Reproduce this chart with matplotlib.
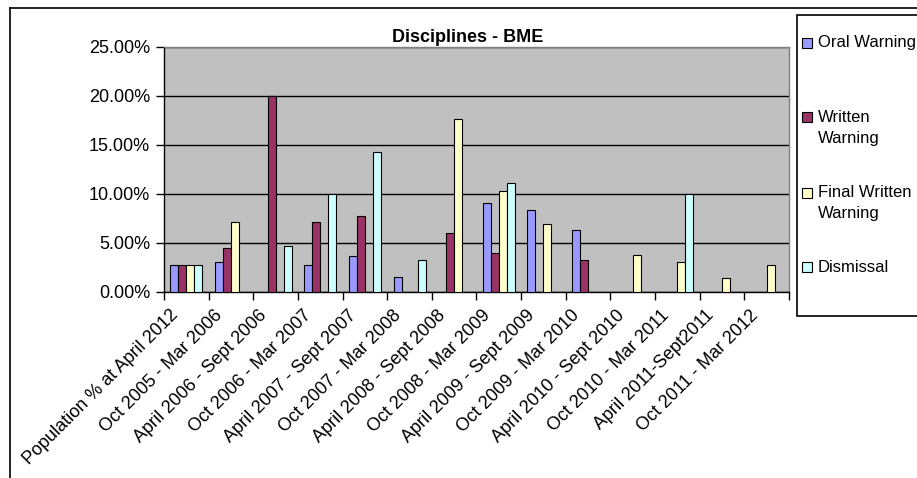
import numpy as np
import matplotlib
matplotlib.use('Agg')
import matplotlib.pyplot as plt
from matplotlib.patches import Rectangle
from matplotlib.lines import Line2D
from matplotlib.ticker import FuncFormatter, MultipleLocator

plt.rcParams['font.family'] = ['Liberation Sans', 'DejaVu Sans']

periods = ['Population % at April 2012', 'Oct 2005 - Mar 2006', 'April 2006 - Sept 2006',
           'Oct 2006 - Mar 2007', 'April 2007 - Sept 2007', 'Oct 2007 - Mar 2008',
           'April 2008 - Sept 2008', 'Oct 2008 - Mar 2009', 'April 2009 - Sept 2009',
           'Oct 2009 - Mar 2010', 'April 2010 - Sept 2010', 'Oct 2010 - Mar 2011',
           'April 2011-Sept2011', 'Oct 2011 - Mar 2012']

# percentages per period, 0 = no cases
oral_warning = [2.7, 3.1, 0, 2.8, 3.7, 1.5, 0, 9.1, 8.3, 6.3, 0, 0, 0, 0]
written_warning = [2.7, 4.5, 20.0, 7.1, 7.7, 0, 6.0, 4.0, 0, 3.3, 0, 0, 0, 0]
final_written = [2.7, 7.1, 0, 0, 0, 0, 17.6, 10.3, 6.9, 0, 3.8, 3.1, 1.4, 2.8]
dismissal = [2.7, 0, 4.7, 10.0, 14.3, 3.3, 0, 11.1, 0, 0, 0, 10.0, 0, 0]

series = [('Oral Warning', oral_warning, '#9999FF'),
          ('Written\nWarning', written_warning, '#993366'),
          ('Final Written\nWarning', final_written, '#FFFFCC'),
          ('Dismissal', dismissal, '#CCFFFF')]

W, H = 917, 478
fig = plt.figure(figsize=(W / 100, H / 100), dpi=100)

def px(x0, y0, x1, y1):
    # pixel box (top-left origin) -> figure fraction rect
    return [x0 / W, 1 - y1 / H, (x1 - x0) / W, (y1 - y0) / H]

ax = fig.add_axes(px(164, 46.5, 789, 292))
ax.set_facecolor('#C0C0C0')

n = len(periods)
x = np.arange(n)
bw = 0.179
for i, (name, vals, col) in enumerate(series):
    offs = (i - 1.5) * bw
    for xi, v in zip(x, vals):
        if v > 0:
            ax.bar(xi + offs, v, width=bw, color=col, edgecolor='black',
                   linewidth=0.8, zorder=3)

ax.set_xlim(-0.5, n - 0.5)
ax.set_ylim(0, 25)
ax.yaxis.set_major_locator(MultipleLocator(5))
ax.yaxis.set_major_formatter(FuncFormatter(lambda v, p: f'{v:.2f}%'))
ax.grid(axis='y', color='black', linewidth=1, zorder=1)
ax.set_axisbelow(True)

# category labels sit a little left of each group centre
ax.set_xticks(x - 0.25)
ax.set_xticklabels(periods, rotation=45, ha='right', va='center',
                   rotation_mode='anchor', fontsize=13)
ax.set_xticks(np.arange(n + 1) - 0.5, minor=True)
ax.tick_params(axis='x', which='major', length=0, pad=15)
ax.tick_params(axis='x', which='minor', length=6, width=1, direction='out')
ax.tick_params(axis='y', length=6, width=1, direction='out', labelsize=13, pad=4)

for s in ['left', 'bottom']:
    ax.spines[s].set_color('black')
    ax.spines[s].set_linewidth(1)
for s in ['top', 'right']:
    ax.spines[s].set_color('#808080')
    ax.spines[s].set_linewidth(1)

fig.text(468 / W, 1 - 37 / H, 'Disciplines - BME', ha='center', va='center',
         fontsize=13, fontweight='bold')

# outer chart frame
fig.add_artist(Line2D([10 / W, 10 / W], [0, 1 - 8 / H], color='black', lw=1.2,
                      transform=fig.transFigure))
fig.add_artist(Line2D([10 / W, 1], [1 - 8 / H, 1 - 8 / H], color='black', lw=1.2,
                      transform=fig.transFigure))

# legend box
fig.add_artist(Rectangle((797 / W, 1 - 316 / H), 200 / W, (316 - 15) / H,
                         transform=fig.transFigure, facecolor='white',
                         edgecolor='black', lw=1.2))
legend_y = [43, 128, 203, 267]
for (name, vals, col), ly in zip(series, legend_y):
    lines = name.split('\n')
    top_y = ly - (len(lines) - 1) * 10.5
    fig.add_artist(Rectangle((802 / W, 1 - (top_y + 5) / H), 10 / W, 10 / H,
                             transform=fig.transFigure, facecolor=col,
                             edgecolor='black', lw=0.8))
    fig.text(818 / W, 1 - top_y / H, lines[0], ha='left', va='center', fontsize=12)
    if len(lines) > 1:
        fig.text(818 / W, 1 - (top_y + 21) / H, lines[1], ha='left', va='center',
                 fontsize=12)

fig.savefig('out.png', dpi=100)
